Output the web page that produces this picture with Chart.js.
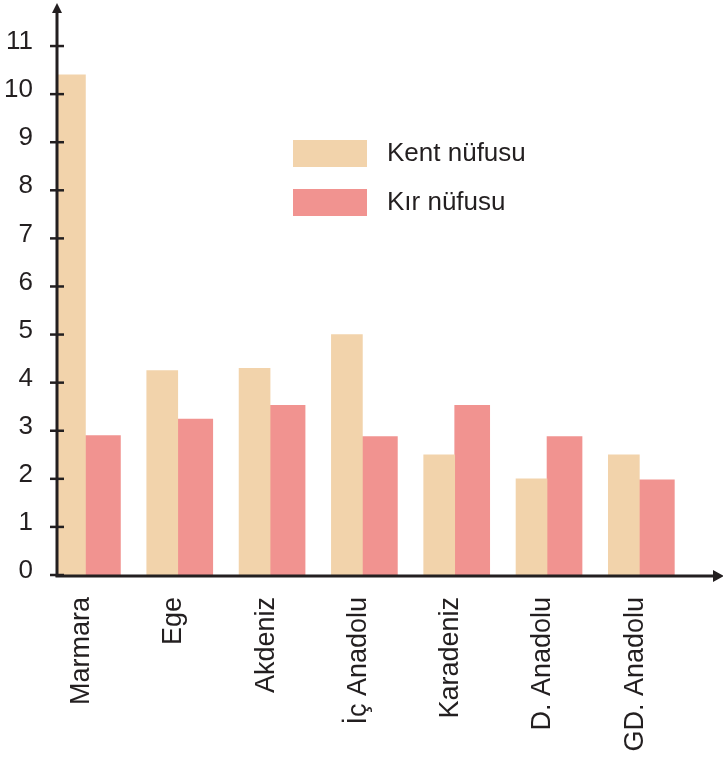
<!DOCTYPE html>
<html>
<head>
<meta charset="utf-8">
<script src="https://cdn.jsdelivr.net/npm/chart.js@4"></script>
<style>
  html, body { margin: 0; padding: 0; background: #fff; }
  #chart { display: block; }
</style>
</head>
<body>
<canvas id="chart" width="723" height="758"></canvas>
<script>
// bölgeler ve nüfus değerleri
const regions = ['Marmara', 'Ege', 'Akdeniz', 'İç Anadolu', 'Karadeniz', 'D. Anadolu', 'GD. Anadolu'];
const kentNufusu = [10.4, 4.25, 4.3, 5.0, 2.5, 2.0, 2.5];
const kirNufusu = [2.9, 3.24, 3.53, 2.88, 3.53, 2.88, 1.98];
const yTicks = [0, 1, 2, 3, 4, 5, 6, 7, 8, 9, 10, 11];

const INK = '#231f20';
const FONT = '"Liberation Sans", Arial, Helvetica, sans-serif';

// eksen çizgileri, oklar, tik işaretleri ve lejant
const axesPlugin = {
  id: 'axes',
  afterDatasetsDraw(chart) {
    const { ctx, chartArea, scales } = chart;
    const x0 = chartArea.left, y0 = chartArea.bottom;
    ctx.save();
    ctx.strokeStyle = INK;
    ctx.fillStyle = INK;
    ctx.lineWidth = 3;
    // y ekseni
    ctx.beginPath();
    ctx.moveTo(x0, y0 + 1.5);
    ctx.lineTo(x0, 10);
    ctx.stroke();
    ctx.beginPath();
    ctx.moveTo(x0, 3);
    ctx.lineTo(x0 - 5, 13);
    ctx.lineTo(x0 + 5, 13);
    ctx.closePath();
    ctx.fill();
    // x ekseni
    ctx.beginPath();
    ctx.moveTo(x0 - 1.5, y0 + 1);
    ctx.lineTo(716, y0 + 1);
    ctx.stroke();
    ctx.beginPath();
    ctx.moveTo(724, y0 + 1);
    ctx.lineTo(713, y0 - 5);
    ctx.lineTo(713, y0 + 7);
    ctx.closePath();
    ctx.fill();
    // tik işaretleri
    ctx.lineWidth = 2.5;
    yTicks.forEach(v => {
      const py = scales.y.getPixelForValue(v);
      ctx.beginPath();
      ctx.moveTo(x0 - 7, py);
      ctx.lineTo(x0 + 7, py);
      ctx.stroke();
    });
    // lejant
    ctx.font = '26px ' + FONT;
    ctx.textBaseline = 'middle';
    chart.data.datasets.forEach((ds, i) => {
      const top = 140 + i * 49;
      ctx.fillStyle = ds.backgroundColor;
      ctx.fillRect(293, top, 74, 27);
      ctx.fillStyle = INK;
      ctx.fillText(ds.label, 387, top + 14);
    });
    ctx.restore();
  }
};

new Chart(document.getElementById('chart'), {
  type: 'bar',
  data: {
    datasets: [
      { label: 'Kent nüfusu', data: kentNufusu.map((v, i) => ({ x: i, y: v })), backgroundColor: '#f2d3ab', barThickness: 31 },
      { label: 'Kır nüfusu', data: kirNufusu.map((v, i) => ({ x: i, y: v })), backgroundColor: '#f19390', barThickness: 35 }
    ]
  },
  options: {
    responsive: false,
    animation: false,
    devicePixelRatio: 1,
    layout: { padding: { top: 22, right: 11, bottom: 0, left: 0 } },
    plugins: { legend: { display: false }, tooltip: { enabled: false } },
    scales: {
      x: {
        type: 'linear',
        min: -0.308,
        max: 6.787,
        offset: false,
        grid: { display: false, drawTicks: false, offset: false },
        border: { display: false },
        afterBuildTicks: s => { s.ticks = regions.map((_, i) => ({ value: i })); },
        afterFit: s => { s.height = 183; s.paddingLeft = 0; s.paddingRight = 0; },
        ticks: {
          autoSkip: false,
          minRotation: 90,
          maxRotation: 90,
          padding: 22,
          labelOffset: -4,
          color: INK,
          font: { family: FONT, size: 27 },
          callback: v => regions[v] ?? ''
        }
      },
      y: {
        min: 0,
        max: 11.5,
        grid: { display: false, drawTicks: false },
        border: { display: false },
        afterBuildTicks: s => { s.ticks = yTicks.map(v => ({ value: v })); },
        afterFit: s => { s.width = 57; s.paddingTop = 0; s.paddingBottom = 0; },
        ticks: {
          padding: 24,
          labelOffset: -4,
          color: INK,
          font: { family: FONT, size: 26 }
        }
      }
    }
  },
  plugins: [axesPlugin]
});
</script>
</body>
</html>
